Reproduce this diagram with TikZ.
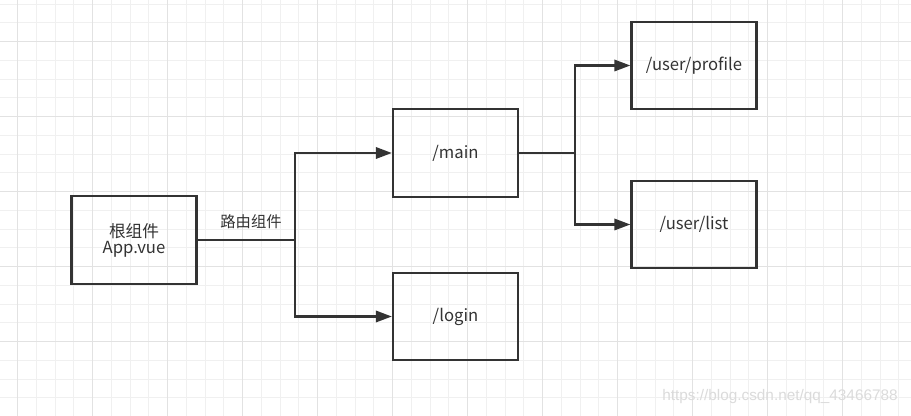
\documentclass[tikz,border=0pt]{standalone}
\usepackage{fontspec}
\setmainfont{Noto Sans CJK SC}
\newfontfamily\wmfont{Liberation Sans}
\usetikzlibrary{arrows.meta}
\definecolor{ink}{HTML}{333333}
\definecolor{gminor}{HTML}{F0F0F0}
\definecolor{gmajor}{HTML}{E2E2E2}
\tikzset{
  box/.style={draw=ink, line width=1.7pt, rectangle, inner sep=0pt,
    minimum width=93.75pt, minimum height=65.5pt, text=ink, font=\fontsize{12.5}{15}\selectfont, align=center},
  wire/.style={draw=ink, line width=1.7pt},
  arr/.style={wire, -{Triangle[length=12pt,width=8.5pt]}},
}
\begin{document}
\begin{tikzpicture}[x=0.75pt,y=-0.75pt]
\useasboundingbox (0,0) rectangle (911,416);
\fill[white] (0,0) rectangle (911,416);
% grid
\foreach \i in {0,...,49} {
  \pgfmathsetmacro{\gx}{17.5+(\i-1)*18.75}
  \draw[gminor, line width=0.75pt] (\gx,0) -- (\gx,416);
}
\foreach \i in {0,...,23} {
  \pgfmathsetmacro{\gy}{4.2+(\i)*18.75}
  \draw[gminor, line width=0.75pt] (0,\gy) -- (911,\gy);
}
\foreach \i in {0,...,12} {
  \pgfmathsetmacro{\gx}{17.5+(\i)*75}
  \draw[gmajor, line width=0.75pt] (\gx,0) -- (\gx,416);
}
\foreach \i in {0,...,5} {
  \pgfmathsetmacro{\gy}{41.7+(\i)*75}
  \draw[gmajor, line width=0.75pt] (0,\gy) -- (911,\gy);
}
% nodes
\node[box] (app) at (134,240) {根组件\\[-3pt]App.vue};
\node[box] (main) at (455.5,153) {/main};
\node[box] (login) at (455.5,316.5) {/login};
\node[box] (profile) at (694,65.5) {/user/profile};
\node[box] (list) at (694,224.5) {/user/list};
\coordinate (j1) at (295,240);
\coordinate (j2) at (575,153);
% connectors
\draw[wire] (app.east) -- (j1);
\draw[arr] (j1) |- (main.west);
\draw[arr] (j1) |- (login.west);
\draw[wire] (main.east) -- (j2);
\draw[arr] (j2) |- (profile.west);
\draw[arr] (j2) |- (list.west);
\node[text=ink, font=\fontsize{11.5}{13}\selectfont] (lbl) at (251,222) {路由组件};
\node[text=gray!28, font=\wmfont\fontsize{11.5}{13}\selectfont] (wm) at (780,397) {https://blog.csdn.net/qq\_43466788};
\end{tikzpicture}
\end{document}
